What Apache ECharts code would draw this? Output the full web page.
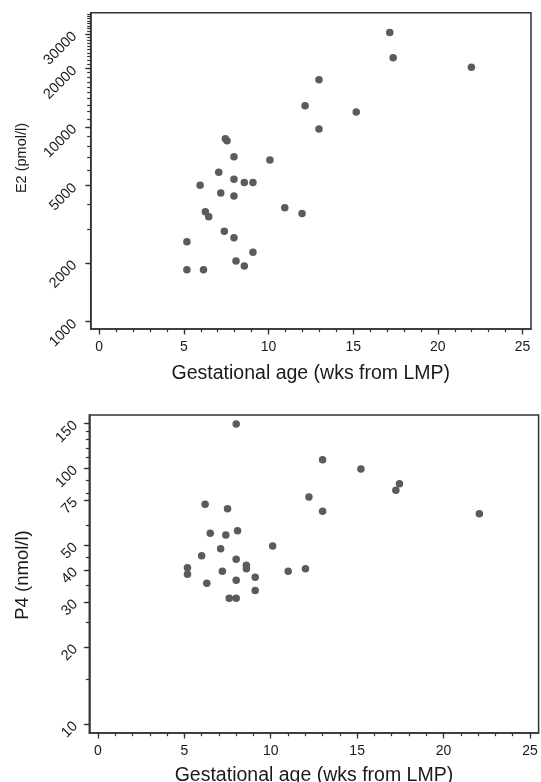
<!DOCTYPE html>
<html>
<head>
<meta charset="utf-8">
<script src="https://cdn.jsdelivr.net/npm/echarts@6/dist/echarts.min.js"></script>
<style>
html,body{margin:0;padding:0;background:#fff;}
#chart{width:541px;height:782px;}
</style>
</head>
<body>
<div id="chart"></div>
<script>
// ---- Data ----
const e2Age = [17.16,17.36,21.98,12.98,12.16,15.18,12.98,7.45,7.55,7.96,10.08,7.06,7.96,8.57,9.08,5.96,7.18,7.96,10.96,11.98,6.27,6.47,7.39,7.96,5.18,9.08,8.08,8.57,5.18,6.16];
const e2Values = [30600,22700,20270,17500,12860,11940,9770,8710,8500,7040,6770,5850,5390,5180,5180,5020,4580,4420,3850,3600,3670,3460,2910,2700,2570,2270,2050,1930,1850,1850];

const p4Age = [8.00,13.00,15.22,17.45,17.24,12.21,6.20,7.50,13.00,22.07,8.08,6.50,7.40,10.11,7.10,6.00,8.00,8.59,8.59,5.18,5.18,7.20,11.01,12.01,9.10,6.30,8.00,9.10,7.60,8.00];
const p4Values = [149,108.1,99.4,87.1,82.0,77.2,72.3,69.5,67.9,66.4,57.0,55.7,54.8,49.7,48.5,45.5,44.1,41.8,40.5,40.8,38.5,39.6,39.6,40.5,37.5,35.5,36.5,33.3,31.0,31.0];

// ---- Tick labels ----
const xMajorTicks = [0,5,10,15,20,25];
const xMinorTicks = [0,1,2,3,4,5,6,7,8,9,10,11,12,13,14,15,16,17,18,19,20,21,22,23,24,25];
const e2MajorTicks = [1000,2000,5000,10000,20000,30000];
const e2MinorTicks = [1000,2000,3000,4000,5000,6000,7000,8000,9000,10000,11000,12000,13000,14000,15000,16000,17000,18000,19000,20000,21000,22000,23000,24000,25000,26000,27000,28000,29000,30000,31000,32000,33000,34000,35000,36000,37000,38000];
const p4MajorTicks = [10,20,30,40,50,75,100,150];
const p4MinorTicks = [10,15,20,25,30,35,40,45,50,60,75,80,90,100,110,120,130,140,150];

const xTitle = 'Gestational age (wks from LMP)';
const e2Title = 'E2 (pmol/l)';
const p4Title = 'P4 (nmol/l)';

const FONT = '"Liberation Sans", Arial, sans-serif';
const INK = '#1a1a1a';
const LINE = '#333';
const DOT = '#5b5b5b';

function xAxes(gridIndex, gap) {
  const common = {
    type: 'value', gridIndex: gridIndex, min: -0.5, max: 25.5, position: 'bottom', offset: 0,
    splitLine: {show: false}
  };
  return [
    Object.assign({}, common, {
      name: xTitle, nameLocation: 'middle', nameGap: gap,
      nameTextStyle: {fontFamily: FONT, fontSize: 19.5, color: INK},
      axisLine: {show: true, onZero: false, lineStyle: {color: LINE, width: 1.5}},
      axisTick: {show: true, length: 5.5, customValues: xMajorTicks, lineStyle: {color: LINE, width: 1.3}},
      axisLabel: {show: true, customValues: xMajorTicks, margin: 11, fontFamily: FONT, fontSize: 14, color: INK,
        formatter: v => String(v)}
    }),
    Object.assign({}, common, {
      axisLine: {show: false, onZero: false},
      axisTick: {show: true, length: 3.2, customValues: xMinorTicks, lineStyle: {color: LINE, width: 1.2}},
      axisLabel: {show: false}
    })
  ];
}

function yAxes(gridIndex, min, max, major, minor, margin) {
  const common = {
    type: 'log', logBase: 10, gridIndex: gridIndex, min: min, max: max, position: 'left', offset: 0,
    splitLine: {show: false}, minorTick: {show: false}
  };
  return [
    Object.assign({}, common, {
      axisLine: {show: true, onZero: false, lineStyle: {color: LINE, width: 1.5}},
      axisTick: {show: true, length: 5.5, customValues: major, lineStyle: {color: LINE, width: 1.3}},
      axisLabel: {show: true, customValues: major, rotate: 45, margin: margin, fontFamily: FONT, fontSize: 14.5, color: INK,
        formatter: v => String(Math.round(v))}
    }),
    Object.assign({}, common, {
      axisLine: {show: false, onZero: false},
      axisTick: {show: true, length: 3.5, customValues: minor, lineStyle: {color: LINE, width: 1.2}},
      axisLabel: {show: false}
    })
  ];
}

const chart = echarts.init(document.getElementById('chart'), null, {renderer: 'canvas'});
chart.setOption({
  animation: false,
  backgroundColor: '#fff',
  grid: [
    {left: 90.7, top: 12.7, width: 440.3, height: 316.3, show: true, borderColor: LINE, borderWidth: 1.5, backgroundColor: 'transparent', containLabel: false, outerBoundsMode: 'none'},
    {left: 89.3, top: 415, width: 449.3, height: 318, show: true, borderColor: LINE, borderWidth: 1.5, backgroundColor: 'transparent', containLabel: false, outerBoundsMode: 'none'}
  ],
  xAxis: [].concat(xAxes(0, 35), xAxes(1, 33)),
  yAxis: [].concat(yAxes(0, 917, 38650, e2MajorTicks, e2MinorTicks, 16), yAxes(1, 9.22, 161.6, p4MajorTicks, p4MinorTicks, 14)),
  graphic: [
    {type: 'text', x: 22, y: 158, rotation: Math.PI / 2, style: {text: e2Title, fontFamily: FONT, fontSize: 14.5, fill: INK, align: 'center', verticalAlign: 'middle'}},
    {type: 'text', x: 23, y: 575, rotation: Math.PI / 2, style: {text: p4Title, fontFamily: FONT, fontSize: 18.5, fill: INK, align: 'center', verticalAlign: 'middle'}}
  ],
  series: [
    {type: 'scatter', xAxisIndex: 0, yAxisIndex: 0, symbol: 'circle', symbolSize: 7.5,
      itemStyle: {color: DOT, opacity: 1}, data: e2Age.map((a, i) => [a, e2Values[i]])},
    {type: 'scatter', xAxisIndex: 2, yAxisIndex: 2, symbol: 'circle', symbolSize: 7.5,
      itemStyle: {color: DOT, opacity: 1}, data: p4Age.map((a, i) => [a, p4Values[i]])}
  ]
});
</script>
</body>
</html>
